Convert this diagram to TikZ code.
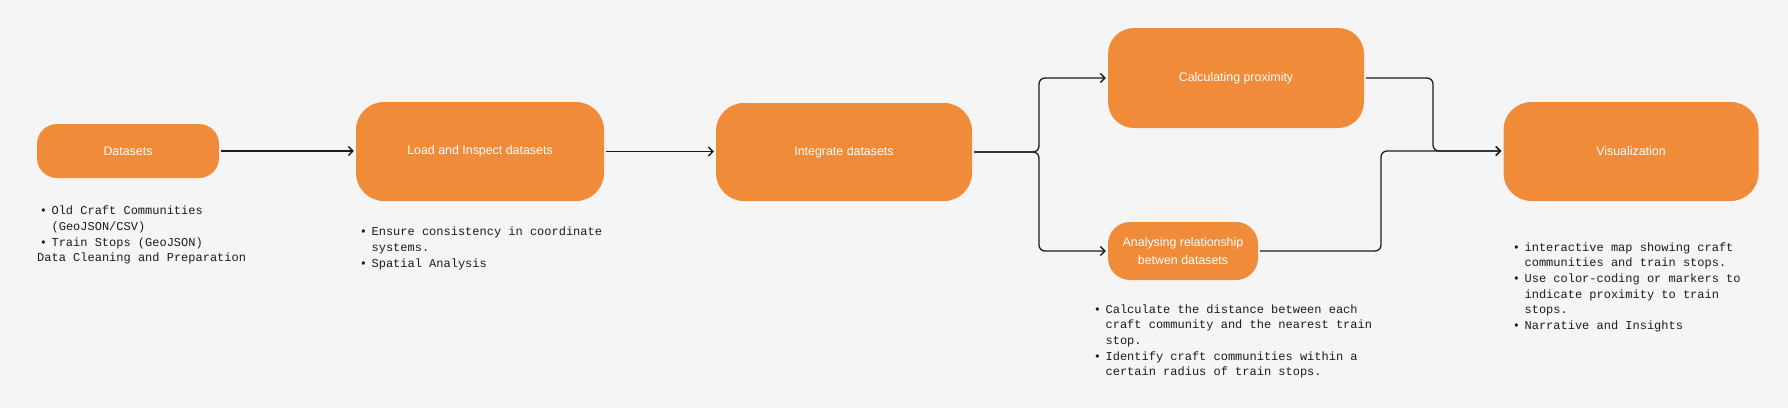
\documentclass[tikz,border=0pt]{standalone}
\usepackage{fontspec}
\setmainfont{Liberation Sans}
\newfontfamily\monof{Liberation Mono}
\usetikzlibrary{arrows.meta}
\definecolor{boxorange}{RGB}{240,139,58}
\definecolor{bgcol}{RGB}{245,245,245}
\definecolor{linecol}{RGB}{28,28,28}
\newcommand\bl{\makebox[14.4pt][l]{\hspace{2.6pt}•}}
\newcommand\ind{\hspace*{14.4pt}}
\newcommand\msp{\spaceskip=7.2pt\relax\xspaceskip=7.2pt\relax\frenchspacing\strut}
\begin{document}
\begin{tikzpicture}[x=1pt,y=-1pt,
  stepbox/.style={fill=boxorange, draw=none, text=white, inner sep=0pt,
    font=\fontsize{12.4}{18}\selectfont, align=center},
  notes/.style={anchor=north west, inner sep=0pt, text width=420pt, align=left,
    font=\monof\fontsize{12}{15.7}\selectfont, text=linecol},
  conn/.style={draw=linecol, line width=1.3pt, rounded corners=6pt,
    -{Straight Barb[length=4.5pt,width=9pt]}, shorten >=2pt, shorten <=2pt}]
\fill[bgcol] (0,0) rectangle (1788,408);
\useasboundingbox (0,0) rectangle (1788,408);

\node[stepbox, minimum width=182pt, minimum height=54pt, rounded corners=20pt] (dat) at (128,151) {Datasets};
\node[stepbox, minimum width=248pt, minimum height=99pt, rounded corners=28pt] (load) at (480,151.5) {\raisebox{-2.8pt}{Load and Inspect datasets}};
\node[stepbox, minimum width=256pt, minimum height=98pt, rounded corners=28pt] (int) at (844,152) {\raisebox{-2.8pt}{Integrate datasets}};
\node[stepbox, minimum width=256pt, minimum height=100pt, rounded corners=26pt] (calc) at (1236,78) {\raisebox{-2.8pt}{Calculating proximity}};
\node[stepbox, minimum width=150pt, minimum height=58pt, rounded corners=22pt] (an) at (1183,251) {Analysing relationship\\betwen datasets};
\node[stepbox, minimum width=255pt, minimum height=99pt, rounded corners=28pt] (vis) at (1631,151.5) {Visualization};

\node[notes] (datt) at (37,203.5) {\msp\bl Old Craft Communities\\\ind(GeoJSON/CSV)\\\bl Train Stops (GeoJSON)\\Data Cleaning and Preparation};
\node[notes] (loadt) at (357,224.5) {\msp\bl Ensure consistency in coordinate\\\ind systems.\\\bl Spatial Analysis};
\node[notes] (ant) at (1091,302) {\msp\bl Calculate the distance between each\\\ind craft community and the nearest train\\\ind stop.\\\bl Identify craft communities within a\\\ind certain radius of train stops.};
\node[notes] (vist) at (1510,240) {\msp\bl interactive map showing craft\\\ind communities and train stops.\\\bl Use color-coding or markers to\\\ind indicate proximity to train\\\ind stops.\\\bl Narrative and Insights};

\coordinate (j1) at (1039,152);
\coordinate (j2) at (1433,151);
\coordinate (j3) at (1381,151);

\draw[conn] (dat.east) -- (dat.east -| load.west);
\draw[conn] (load.east) -- (load.east -| int.west);
\draw[conn] (int.east) -- (j1 |- int.east) |- (calc.west);
\draw[conn] (int.east) -- (j1 |- int.east) |- (an.west);
\draw[conn] (calc.east) -| (j2) -- (j2 -| vis.west);
\draw[conn] (an.east) -| (j3) -- (j3 -| vis.west);
\end{tikzpicture}
\end{document}
